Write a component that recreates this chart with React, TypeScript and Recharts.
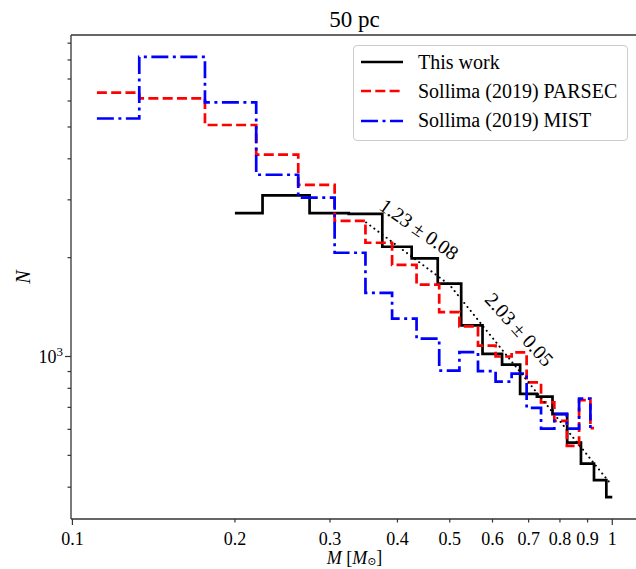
import { ComposedChart, Line, XAxis, YAxis, ReferenceDot, ReferenceLine, Legend, Label } from "recharts"

document.body.style.margin = "0"

const FONT = '"Liberation Serif", "DejaVu Serif", serif'
const AXIS_COLOR = "#333"

// Sollima (2019) histograms share the same mass bins (M_sun)
const SOLLIMA_EDGES = [
  0.111, 0.133, 0.176, 0.219, 0.262, 0.306, 0.349, 0.391, 0.434, 0.478, 0.521,
  0.564, 0.608, 0.651, 0.694, 0.738, 0.781, 0.824, 0.868, 0.911, 0.925,
]
const PARSEC_COUNTS = [
  6360, 6110, 5070, 4120, 3330, 2590, 2220, 1900, 1655, 1365,
  1235, 1080, 1000, 1030, 834, 725, 637, 534, 737, 605,
]
const MIST_COUNTS = [
  5307, 8170, 5940, 3577, 3048, 2070, 1562, 1304, 1133, 906,
  1031, 902, 839, 887, 698, 603, 669, 603, 744, 603,
]

// this work
const THIS_WORK_EDGES = [
  0.2, 0.225, 0.275, 0.325, 0.375, 0.425, 0.475, 0.525, 0.575,
  0.625, 0.675, 0.725, 0.775, 0.825, 0.875, 0.925, 0.975, 1.0,
]
const THIS_WORK_COUNTS = [
  2732, 3096, 2732, 2719, 2159, 1990, 1668, 1244, 1019,
  945, 769, 755, 668, 547, 472, 420, 373,
]

// broken power-law fit (dotted)
const FIT_MASS = [0.35, 0.5, 0.99]
const FIT_COUNTS = [2560, 1650, 412]

const ANNOTATIONS = [
  { text: "1.23 ± 0.08", m: 0.439, n: 2443, angle: 35 },
  { text: "2.03 ± 0.05", m: 0.673, n: 1209, angle: 48 },
]

const X_TICKS = [0.1, 0.2, 0.3, 0.4, 0.5, 0.6, 0.7, 0.8, 0.9, 1]
const Y_TICKS = [400, 500, 600, 700, 800, 900, 1000, 2000, 3000, 4000, 5000, 6000, 7000, 8000, 9000]
const X_DOMAIN = [0.0994, 1.116]
const Y_DOMAIN = [320, 9530]

const LEGEND = [
  { label: "This work", color: "#000000", dash: undefined },
  { label: "Sollima (2019) PARSEC", color: "#ff0000", dash: "10 4.3" },
  { label: "Sollima (2019) MIST", color: "#0000ff", dash: "17 4.5 3 4.5" },
]

// one point per left edge plus a closing point at the last edge
function toSteps(edges: number[], counts: number[]) {
  const pts = counts.map((n, i) => ({ m: edges[i], n }))
  pts.push({ m: edges[edges.length - 1], n: counts[counts.length - 1] })
  return pts
}

const thisWork = toSteps(THIS_WORK_EDGES, THIS_WORK_COUNTS)
const parsec = toSteps(SOLLIMA_EDGES, PARSEC_COUNTS)
const mist = toSteps(SOLLIMA_EDGES, MIST_COUNTS)
const fit = FIT_MASS.map((m, i) => ({ m, n: FIT_COUNTS[i] }))

function XTick({ x, y, payload }: any) {
  const major = payload.value === 0.1 || payload.value === 1
  const len = major ? 6 : 3.5
  return (
    <g>
      <line x1={x} x2={x} y1={y} y2={y + len} stroke={AXIS_COLOR} strokeWidth={1.2} />
      <text x={x} y={y + 26} textAnchor="middle" fontFamily={FONT} fontSize={18} fill="#000">
        {String(payload.value)}
      </text>
    </g>
  )
}

function YTick({ x, y, payload }: any) {
  const major = payload.value === 1000
  const len = major ? 6 : 3.5
  return (
    <g>
      <line x1={x} x2={x - len} y1={y} y2={y} stroke={AXIS_COLOR} strokeWidth={1.2} />
      {major && (
        <text x={x - 8} y={y} dy="0.35em" textAnchor="end" fontFamily={FONT} fontSize={18} fill="#000">
          10<tspan dy="-0.5em" fontSize={13}>3</tspan>
        </text>
      )}
    </g>
  )
}

function LegendBox() {
  return (
    <div
      style={{
        boxSizing: "border-box",
        width: 275,
        height: 96,
        border: "1px solid #cccccc",
        borderRadius: 4,
        background: "rgba(255,255,255,0.8)",
        position: "relative",
        fontFamily: FONT,
        fontSize: 20,
        color: "#000",
      }}
    >
      {LEGEND.map((item, i) => (
        <div
          key={item.label}
          style={{
            position: "absolute",
            left: 7,
            top: 16 + i * 29.4 - 12,
            height: 24,
            display: "flex",
            alignItems: "center",
            whiteSpace: "nowrap",
          }}
        >
          <svg width={42} height={6} style={{ marginRight: 15 }}>
            <line x1={0} x2={42} y1={3} y2={3} stroke={item.color} strokeWidth={2.7} strokeDasharray={item.dash} />
          </svg>
          <span>{item.label}</span>
        </div>
      ))}
    </div>
  )
}

export default function App() {
  return (
    <div style={{ width: 636, height: 569, overflow: "hidden", position: "relative", background: "#fff" }}>
      <ComposedChart width={640} height={569} margin={{ top: 35, right: 2, left: 0, bottom: 0 }}>
        <XAxis
          type="number"
          dataKey="m"
          scale="log"
          domain={X_DOMAIN}
          allowDataOverflow
          ticks={X_TICKS}
          interval={0}
          height={50}
          tickSize={0}
          tickMargin={0}
          tickLine={false}
          tick={<XTick />}
          axisLine={{ stroke: AXIS_COLOR, strokeWidth: 1.3 }}
          label={
            <Label
              content={({ viewBox }: any) => (
                <text
                  x={viewBox.x + viewBox.width / 2}
                  y={564}
                  textAnchor="middle"
                  fontFamily={FONT}
                  fontSize={18}
                  fill="#000"
                >
                  <tspan fontStyle="italic">M</tspan> [<tspan fontStyle="italic">M</tspan>
                  <tspan fontSize={11} dy="0.1em">⊙</tspan>
                  <tspan dy="-0.1em">]</tspan>
                </text>
              )}
            />
          }
        />
        <YAxis
          type="number"
          scale="log"
          domain={Y_DOMAIN}
          allowDataOverflow
          ticks={Y_TICKS}
          interval={0}
          width={71}
          tickSize={0}
          tickMargin={0}
          tickLine={false}
          tick={<YTick />}
          axisLine={{ stroke: AXIS_COLOR, strokeWidth: 1.3 }}
          label={
            <Label
              content={({ viewBox }: any) => (
                <text
                  x={23}
                  y={viewBox.y + viewBox.height / 2}
                  textAnchor="middle"
                  dominantBaseline="central"
                  transform={`rotate(-90, 23, ${viewBox.y + viewBox.height / 2})`}
                  fontFamily={FONT}
                  fontStyle="italic"
                  fontSize={20}
                  fill="#000"
                >
                  N
                </text>
              )}
            />
          }
        />

        {/* top spine, carries the title */}
        <ReferenceLine y={Y_DOMAIN[1]} stroke={AXIS_COLOR} strokeWidth={1.3}>
          <Label
            content={({ viewBox }: any) => (
              <text
                x={viewBox.x + viewBox.width / 2}
                y={viewBox.y - 8}
                textAnchor="middle"
                fontFamily={FONT}
                fontSize={23}
                fill="#000"
              >
                50 pc
              </text>
            )}
          />
        </ReferenceLine>

        <Line data={thisWork} dataKey="n" type="stepAfter" stroke="#000" strokeWidth={2.7} dot={false} isAnimationActive={false} />
        <Line data={parsec} dataKey="n" type="stepAfter" stroke="#ff0000" strokeWidth={2.7} strokeDasharray="10 4.3" dot={false} isAnimationActive={false} />
        <Line data={mist} dataKey="n" type="stepAfter" stroke="#0000ff" strokeWidth={2.7} strokeDasharray="17 4.5 3 4.5" dot={false} isAnimationActive={false} />
        <Line
          data={fit}
          dataKey="n"
          type="linear"
          stroke="#000"
          strokeWidth={2}
          strokeDasharray="0.1 5"
          strokeLinecap="round"
          dot={false}
          legendType="none"
          isAnimationActive={false}
        />

        {ANNOTATIONS.map((a) => (
          <ReferenceDot key={a.text} x={a.m} y={a.n} r={0} stroke="none" fill="none" ifOverflow="visible">
            <Label
              content={({ viewBox }: any) => (
                <text
                  x={viewBox.x}
                  y={viewBox.y}
                  textAnchor="middle"
                  dominantBaseline="central"
                  transform={`rotate(${a.angle}, ${viewBox.x}, ${viewBox.y})`}
                  fontFamily={FONT}
                  fontSize={20}
                  fill="#000"
                >
                  {a.text}
                </text>
              )}
            />
          </ReferenceDot>
        ))}

        <Legend
          layout="vertical"
          align="center"
          verticalAlign="middle"
          wrapperStyle={{ left: 353, top: 45, width: 275, height: 96 }}
          content={() => <LegendBox />}
        />
      </ComposedChart>
    </div>
  )
}
